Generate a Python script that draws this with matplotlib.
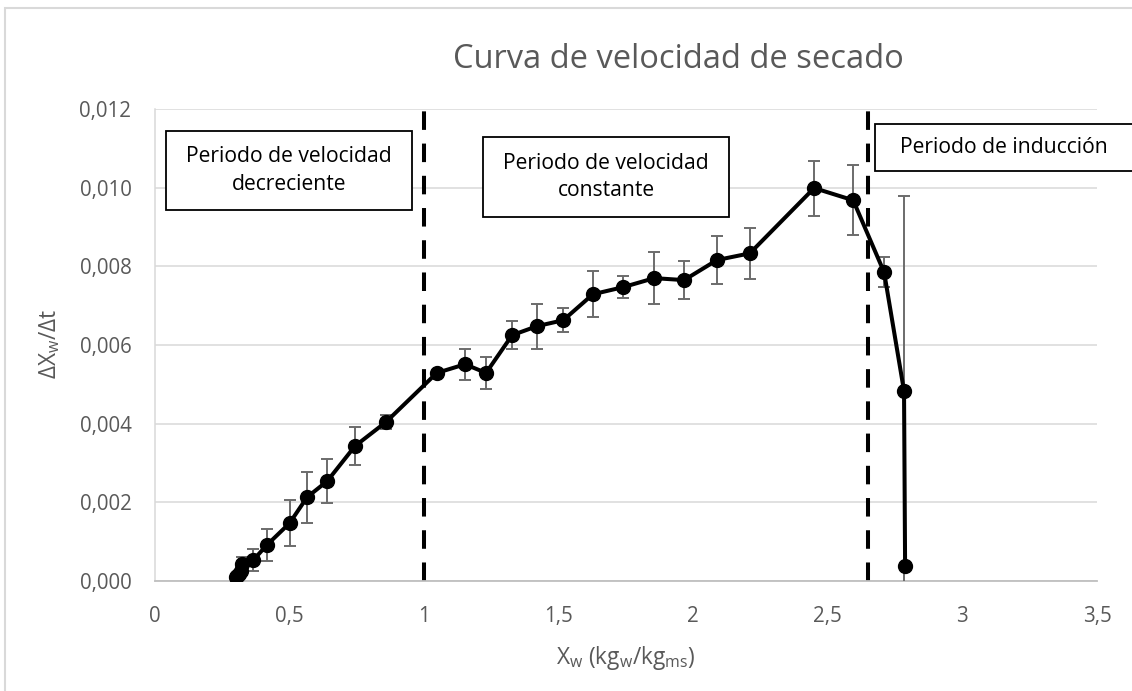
import matplotlib
matplotlib.use("Agg")
import matplotlib.pyplot as plt
from matplotlib.patches import Rectangle
from matplotlib.ticker import FuncFormatter, MultipleLocator

plt.rcParams['font.family'] = ['Open Sans', 'DejaVu Sans']
plt.rcParams['mathtext.fontset'] = 'custom'
plt.rcParams['mathtext.rm'] = 'Open Sans'
plt.rcParams['mathtext.it'] = 'Open Sans'

# ---- data ----
xw = [0.300, 0.305, 0.312, 0.318, 0.325, 0.365, 0.415, 0.500, 0.565, 0.640,
      0.743, 0.858, 1.047, 1.152, 1.230, 1.327, 1.420, 1.517, 1.627, 1.739,
      1.855, 1.966, 2.088, 2.210, 2.449, 2.594, 2.709, 2.783, 2.787]
rate = [0.00010, 0.00012, 0.00018, 0.00025, 0.00042, 0.00053, 0.00091, 0.00147,
        0.00213, 0.00254, 0.00343, 0.00404, 0.00529, 0.00551, 0.00529, 0.00625,
        0.00648, 0.00663, 0.00729, 0.00747, 0.00770, 0.00765, 0.00816, 0.00833,
        0.00999, 0.00968, 0.00785, 0.00483, 0.00038]
rate_err = [0.00005, 0.00005, 0.00008, 0.00010, 0.00020, 0.00028, 0.00040, 0.00058,
            0.00065, 0.00055, 0.00048, 0.00018, 0.00000, 0.00040, 0.00040, 0.00035,
            0.00057, 0.00031, 0.00058, 0.00028, 0.00066, 0.00049, 0.00060, 0.00064,
            0.00070, 0.00089, 0.00038, 0.00495, 0.00000]
period_bounds = [1.0, 2.65]
period_labels = ["Periodo de velocidad\ndecreciente",
                 "Periodo de velocidad\nconstante",
                 "Periodo de inducción"]
title = "Curva de velocidad de secado"

W, H = 1132, 691
fig = plt.figure(figsize=(W / 100, H / 100), dpi=100)
fig.patch.set_facecolor('white')

def fx(px):
    return px / W

def fy(py):
    return 1 - py / H

ax = fig.add_axes([fx(155), fy(581), fx(1097) - fx(155), fy(109) - fy(581)])
ax.set_xlim(0, 3.5)
ax.set_ylim(0, 0.012)
ax.xaxis.set_major_locator(MultipleLocator(0.5))
ax.yaxis.set_major_locator(MultipleLocator(0.002))
ax.xaxis.set_major_formatter(FuncFormatter(lambda v, p: ('%g' % v).replace('.', ',')))
ax.yaxis.set_major_formatter(FuncFormatter(lambda v, p: ('%.3f' % v).replace('.', ',')))
ax.tick_params(length=0, labelsize=14.8, colors='#595959')
ax.tick_params(axis='x', pad=18)
ax.tick_params(axis='y', pad=17)
ax.grid(axis='y', color='#d9d9d9', lw=1.1, zorder=0)
ax.set_axisbelow(True)
for s in ['top', 'right']:
    ax.spines[s].set_visible(False)
ax.spines['left'].set_color('#d9d9d9')
ax.spines['left'].set_linewidth(1.1)
ax.spines['bottom'].set_color('#bfbfbf')
ax.spines['bottom'].set_linewidth(1.3)

# period boundaries
for b in period_bounds:
    ax.plot([b, b], [0, 0.0121], color='black', lw=2.9, dashes=(4.6, 3.4),
            zorder=2, clip_on=False, solid_capstyle='butt', dash_capstyle='butt')

ax.errorbar(xw, rate, yerr=rate_err, fmt='none', ecolor='#6b6b6b', elinewidth=1.4,
            capsize=4.6, capthick=1.4, zorder=3)
ax.plot(xw, rate, color='black', lw=2.9, marker='o', markersize=10, zorder=4)

# labels
fig.text(fx(678), fy(60), title, ha='center', va='center', fontsize=23.5, color='#595959')
fig.text(fx(626), fy(658), r'X$_{\mathregular{w}}$ (kg$_{\mathregular{w}}$/kg$_{\mathregular{ms}}$)',
         ha='center', va='center', fontsize=16.3, color='#595959')
fig.text(fx(50), fy(344), r'ΔX$_{\mathregular{w}}$/Δt', ha='center', va='center',
         rotation=90, fontsize=16.3, color='#595959')

# text boxes
boxes = [(166, 131, 412, 210), (483, 137, 729, 217), (875, 124, 1145, 171)]
centers = [(289, 170.5), (606, 177), (1004, 147.5)]
for (x0, y0, x1, y1), (cx, cy), lab in zip(boxes, centers, period_labels):
    r = Rectangle((fx(x0), fy(y1)), fx(x1) - fx(x0), fy(y0) - fy(y1),
                  transform=fig.transFigure, facecolor='white', edgecolor='black',
                  lw=1.3, zorder=10)
    fig.add_artist(r)
    fig.text(fx(cx), fy(cy), lab, ha='center', va='center', fontsize=15.2,
             color='black', linespacing=1.4, zorder=11)

# outer chart border
fig.add_artist(Rectangle((fx(5), -0.1), 1.2, fy(8) + 0.1, transform=fig.transFigure,
                         facecolor='none', edgecolor='#d9d9d9', lw=1.5, zorder=0))

fig.savefig('out.png', dpi=100)
